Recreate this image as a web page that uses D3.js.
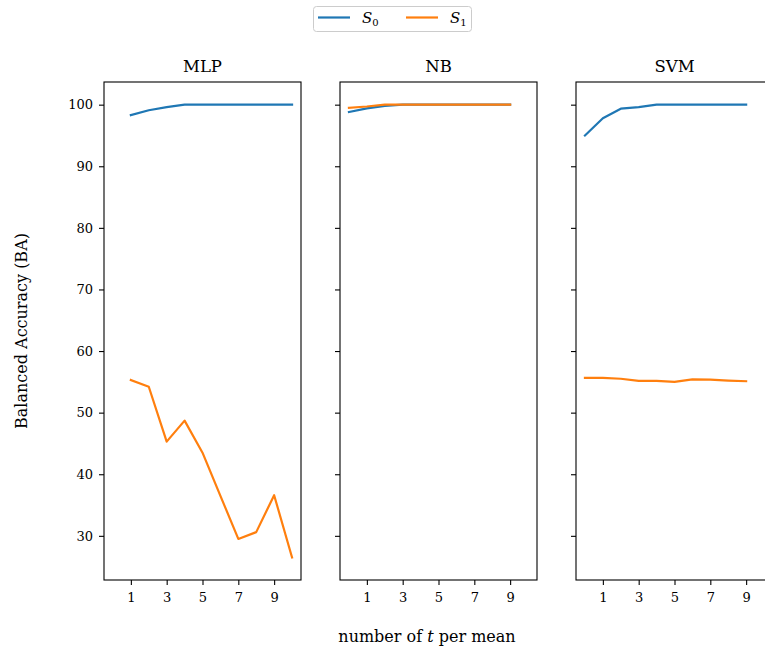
<!DOCTYPE html>
<html>
<head>
<meta charset="utf-8">
<script src="https://cdn.jsdelivr.net/npm/d3@7"></script>
<style>
  body { margin: 0; background: #fff; }
  svg { display: block; }
  text { font-family: "DejaVu Serif", "Liberation Serif", serif; fill: #000; }
</style>
</head>
<body>
<svg id="chart" width="765" height="651"></svg>
<script>
const panels = ["MLP", "NB", "SVM"];
const seriesNames = ["S0", "S1"];
const xMLP = [1, 2, 3, 4, 5, 6, 7, 8, 9, 10];
const xNB = [0, 1, 2, 3, 4, 5, 6, 7, 8, 9];
const xSVM = [0, 1, 2, 3, 4, 5, 6, 7, 8, 9];
const mlpS0 = [98.3, 99.1, 99.6, 100, 100, 100, 100, 100, 100, 100];
const mlpS1 = [55.3, 54.2, 45.3, 48.7, 43.5, 36.5, 29.5, 30.6, 36.6, 26.5];
const nbS0 = [98.8, 99.4, 99.8, 100, 100, 100, 100, 100, 100, 100];
const nbS1 = [99.5, 99.7, 100, 100, 100, 100, 100, 100, 100, 100];
const svmS0 = [95.0, 97.8, 99.35, 99.6, 100, 100, 100, 100, 100, 100];
const svmS1 = [55.65, 55.65, 55.5, 55.15, 55.15, 55.0, 55.4, 55.35, 55.2, 55.1];
const xTicks = [1, 3, 5, 7, 9];
const yTicks = [30, 40, 50, 60, 70, 80, 90, 100];
const colors = ["#1f77b4", "#ff7f0e"];

const panelData = [
  { name: "MLP", x: xMLP, series: [mlpS0, mlpS1] },
  { name: "NB", x: xNB, series: [nbS0, nbS1] },
  { name: "SVM", x: xSVM, series: [svmS0, svmS1] }
];

const svg = d3.select("#chart");
const plotTop = 82, plotBottom = 580, pw = 197;
const lefts = [104, 340, 576];

const y = d3.scaleLinear().domain([22.83, 103.68]).range([plotBottom, plotTop]);

panelData.forEach((p, i) => {
  const x = d3.scaleLinear().domain([-0.5, 10.5]).range([lefts[i], lefts[i] + pw]);
  const g = svg.append("g");

  p.series.forEach((s, k) => {
    const line = d3.line().x((d, j) => x(p.x[j])).y(d => y(d));
    g.append("path").datum(s)
      .attr("d", line)
      .attr("fill", "none")
      .attr("stroke", colors[k])
      .attr("stroke-width", 2.2)
      .attr("stroke-linejoin", "round")
      .attr("stroke-linecap", "square");
  });

  g.append("rect")
    .attr("x", lefts[i]).attr("y", plotTop)
    .attr("width", pw).attr("height", plotBottom - plotTop)
    .attr("fill", "none").attr("stroke", "#000").attr("stroke-width", 1.1);

  const xa = g.append("g").attr("transform", `translate(0,${plotBottom})`)
    .call(d3.axisBottom(x).tickValues(xTicks).tickSize(5).tickPadding(8).tickFormat(d3.format("d")));
  xa.select(".domain").remove();
  xa.selectAll("line").attr("stroke-width", 1.1);
  xa.selectAll("text").style("font-size", "13px").style("font-family", "DejaVu Serif, serif");

  const ya = g.append("g").attr("transform", `translate(${lefts[i]},0)`)
    .call(d3.axisLeft(y).tickValues(yTicks).tickSize(5).tickPadding(6)
      .tickFormat(i === 0 ? d3.format("d") : () => ""));
  ya.select(".domain").remove();
  ya.selectAll("line").attr("stroke-width", 1.1);
  ya.selectAll("text").style("font-size", "13px").style("font-family", "DejaVu Serif, serif");

  g.append("text")
    .attr("x", lefts[i] + pw / 2).attr("y", 72)
    .attr("text-anchor", "middle")
    .style("font-size", "16.5px")
    .text(p.name);
});

svg.append("text")
  .attr("transform", "translate(27,331) rotate(-90)")
  .attr("text-anchor", "middle")
  .style("font-size", "16px")
  .text("Balanced Accuracy (BA)");

const xl = svg.append("text")
  .attr("x", 427).attr("y", 642)
  .attr("text-anchor", "middle")
  .style("font-size", "16px");
xl.append("tspan").text("number of ");
xl.append("tspan").attr("font-style", "italic").text("t");
xl.append("tspan").text(" per mean");

const lg = svg.append("g");
lg.append("rect")
  .attr("x", 313.5).attr("y", 6.5).attr("width", 158).attr("height", 25)
  .attr("rx", 3).attr("fill", "#fff").attr("stroke", "#cccccc").attr("stroke-width", 1);
const legX = [318, 406];
seriesNames.forEach((n, k) => {
  lg.append("line")
    .attr("x1", legX[k]).attr("x2", legX[k] + 32)
    .attr("y1", 17.5).attr("y2", 17.5)
    .attr("stroke", colors[k]).attr("stroke-width", 2.2);
  const t = lg.append("text")
    .attr("x", legX[k] + 44).attr("y", 23)
    .style("font-size", "15px");
  t.append("tspan").attr("font-style", "italic").text(n[0]);
  t.append("tspan").attr("dy", 3).style("font-size", "10px").text(n.slice(1));
});
</script>
</body>
</html>
